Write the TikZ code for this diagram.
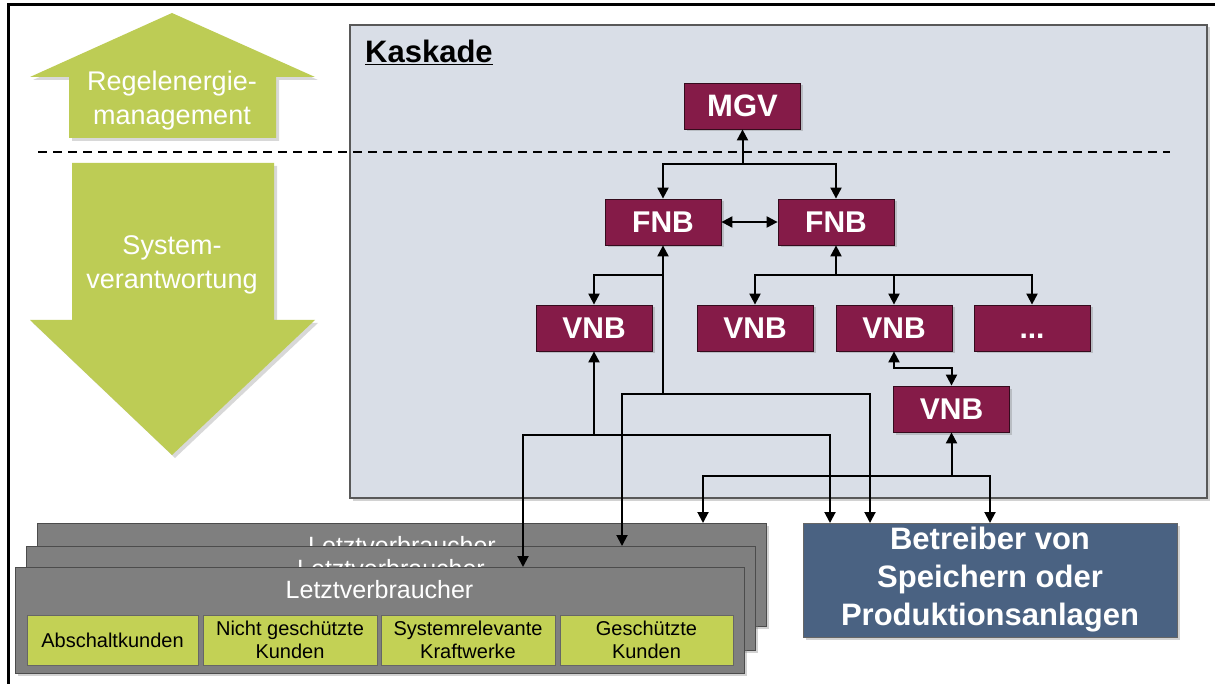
\documentclass[tikz,border=0pt]{standalone}
\usepackage{fontspec}
\setmainfont{Liberation Sans}
\usetikzlibrary{arrows.meta,shadows}
\definecolor{netred}{HTML}{851B48}
\definecolor{kfill}{HTML}{D9DEE7}
\definecolor{arrgreen}{HTML}{BDCC55}
\definecolor{boxgreen}{HTML}{C3D155}
\definecolor{lvgray}{HTML}{7F7F7F}
\definecolor{betrblue}{HTML}{4A6282}
\tikzset{
  shd/.style={drop shadow={opacity=0.35,shadow xshift=2.5pt,shadow yshift=-2.5pt}},
  netbox/.style={draw=black!60!netred, line width=0.8pt, fill=netred, text=white,
    font=\fontsize{30}{36}\selectfont\bfseries, minimum width=116pt, minimum height=46pt,
    inner sep=0pt, shd},
  lvbox/.style={draw=black!70, line width=1pt, fill=lvgray, minimum width=729pt,
    minimum height=104pt, inner sep=0pt, shd},
  lvtext/.style={text=white, font=\fontsize{25}{30}\selectfont, inner sep=0pt},
  gbox/.style={draw=black!60, line width=0.8pt, fill=boxgreen, minimum width=172pt,
    minimum height=50pt, inner sep=0pt, align=center,
    font=\fontsize{20}{23}\selectfont, shd},
  conn/.style={line width=2pt, -{Triangle[length=11pt,width=11pt]}},
  dconn/.style={line width=2pt, {Triangle[length=11pt,width=11pt]}-{Triangle[length=11pt,width=11pt]}},
  greenarr/.style={fill=arrgreen, drop shadow={opacity=0.3,shadow xshift=3pt,shadow yshift=-3pt}},
  arrtext/.style={text=white, align=center, font=\fontsize{27}{34}\selectfont, inner sep=0pt}
}
\begin{document}
\begin{tikzpicture}[x=1pt,y=-1pt]
\useasboundingbox (0,0) rectangle (1215,684);
\fill[white] (0,0) rectangle (1215,684);
% outer frame
\draw[line width=3pt] (8,684) -- (8,5) -- (1215,5);

% Kaskade area
\node[draw=black!65, line width=1.2pt, fill=kfill, shd, minimum width=857pt, minimum height=473pt, inner sep=0pt] (kask) at (778.5,261.5) {};
\node[anchor=west, font=\fontsize{31}{36}\selectfont\bfseries, inner sep=0pt] (kasktitle) at (365,52) {\underline{Kaskade}};

% green arrows
\path[greenarr] (172,13) -- (315,77) -- (276,77) -- (276,138) -- (69,138) -- (69,77) -- (30,77) -- cycle;
\node[arrtext] (regel) at (172,101) {Regelenergie-\\management};
\path[greenarr] (72,163) -- (274,163) -- (274,320) -- (315,320) -- (172,455) -- (30,320) -- (72,320) -- cycle;
\node[arrtext] (sysv) at (172,265) {System-\\verantwortung};

% dashed separator
\draw[line width=1.5pt, dash pattern=on 9pt off 6pt] (38,152) coordinate (dashA) -- (1170,152) coordinate (dashB);

% network nodes
\node[netbox, font=\fontsize{31}{36}\selectfont\bfseries] (mgv) at (742.5,106) {MGV};
\node[netbox] (fnbL) at (663,222) {FNB};
\node[netbox] (fnbR) at (836,222) {FNB};
\node[netbox] (vnb1) at (594,328) {VNB};
\node[netbox] (vnb2) at (755,328) {VNB};
\node[netbox] (vnb3) at (894,328) {VNB};
\node[netbox] (vnbD) at (1032,328) {\vphantom{VNB}...};
\node[netbox] (vnb4) at (951.5,409) {VNB};

% Letztverbraucher stacks
\node[lvbox, minimum height=103pt] (lv1) at (402,574.5) {};
\node[lvtext] (lv1t) at (402,546) {Letztverbraucher};
\node[lvbox] (lv2) at (391,598) {};
\node[lvtext] (lv2t) at (391,569) {Letztverbraucher};
\node[lvbox, minimum height=106pt] (lv3) at (379.5,620) {};
\node[lvtext] (lv3t) at (379.5,590) {Letztverbraucher};
\node[gbox, minimum width=171pt] (g1) at (112.5,640) {Abschaltkunden};
\node[gbox, minimum width=174pt] (g2) at (290,640) {Nicht geschützte\\Kunden};
\node[gbox, minimum width=174pt] (g3) at (468,640) {Systemrelevante\\Kraftwerke};
\node[gbox, minimum width=173pt] (g4) at (646.5,640) {Geschützte\\Kunden};

% Betreiber
\node[draw=black!60, line width=1pt, fill=betrblue, shd, minimum width=374pt, minimum height=114pt,
  inner sep=0pt, text=white, align=center, font=\fontsize{31}{38}\selectfont\bfseries] (betr) at (990,580)
  {Betreiber von\\Speichern oder\\Produktionsanlagen};

% junctions and entry points
\coordinate (j1) at (742.5,164);
\coordinate (j2) at (836,275);
\coordinate (j3) at (663,275);
\coordinate (j4) at (663,394);
\coordinate (j5) at (594,435);
\coordinate (j6) at (951.5,476);
\coordinate (k1) at (951.5,368);
\coordinate (lv1in) at (703,523);
\coordinate (lv2in) at (622,546);
\coordinate (lv3in) at (523,567);
\coordinate (b1in) at (830,523);
\coordinate (b2in) at (870,523);
\coordinate (b3in) at (990,523);

% connectors
\draw[conn] (j1) -- (mgv.south);
\draw[conn] (j1) -| (fnbL.north);
\draw[conn] (j1) -| (fnbR.north);
\draw[dconn] (fnbL.east) -- (fnbR.west);
\draw[conn] (j2) -- (fnbR.south);
\draw[conn] (j2) -| (vnb2.north);
\draw[conn] (j2) -| (vnb3.north);
\draw[conn] (j2) -| (vnbD.north);
\draw[conn] (j4) -- (fnbL.south);
\draw[conn] (j3) -| (vnb1.north);
\draw[conn] (j4) -| (lv2in);
\draw[conn] (j4) -| (b2in);
\draw[conn] (j5) -- (vnb1.south);
\draw[conn] (j5) -| (lv3in);
\draw[conn] (j5) -| (b1in);
\draw[dconn] (vnb3.south) |- (k1) -- (vnb4.north);
\draw[conn] (j6) -- (vnb4.south);
\draw[conn] (j6) -| (lv1in);
\draw[conn] (j6) -| (b3in);
\end{tikzpicture}
\end{document}
